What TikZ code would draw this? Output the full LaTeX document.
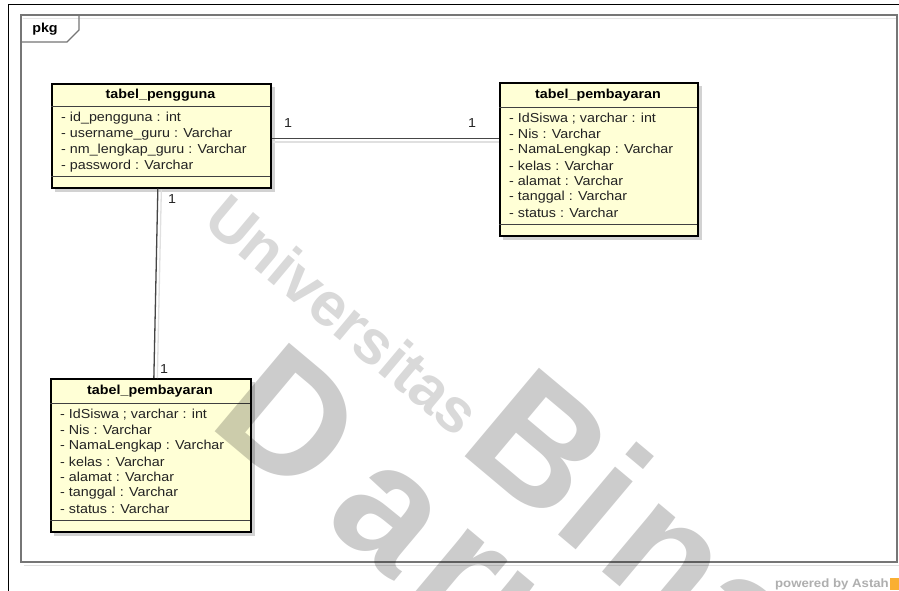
\documentclass[tikz,border=0pt]{standalone}
\usepackage{fontspec}
\setmainfont{Liberation Sans}[FakeStretch=1.1]
\newfontfamily\wmfont{Liberation Sans}
\usetikzlibrary{calc}
\definecolor{boxfill}{RGB}{255,255,214}
\definecolor{frameg}{RGB}{118,118,118}
\definecolor{linkg}{RGB}{70,70,70}
\definecolor{shadowg}{RGB}{210,210,210}
\definecolor{astahg}{RGB}{175,175,175}
\definecolor{astaho}{RGB}{250,175,50}
\definecolor{txtg}{RGB}{35,35,35}
\tikzset{
  classbox/.style={draw=black, line width=1.7pt, fill=boxfill, inner sep=0pt, anchor=north west},
  sepline/.style={draw=black!75, line width=0.9pt},
  titletext/.style={font=\bfseries\fontsize{13}{13}\selectfont, text=black, inner sep=0pt},
  attr/.style={font=\fontsize{13}{13}\selectfont, text=txtg, inner sep=0pt, anchor=west},
  link/.style={draw=linkg, line width=1.3pt},
  linkshadow/.style={draw=black!12, line width=1.3pt},
  mult/.style={font=\fontsize{13}{13}\selectfont, text=txtg, inner sep=0pt},
  wmtext/.style={inner sep=0pt, rotate=-40, anchor=base west, text=black}
}
\begin{document}
\begin{tikzpicture}[x=1pt,y=-1pt]
\useasboundingbox (0,0) rectangle (899,591);
\fill[white] (0,0) rectangle (899,591);
% page border
\draw[black, line width=1.5pt] (8.5,591) -- (8.5,4.5) -- (899,4.5);
% package frame
\draw[black!12, line width=1.5pt] (24,565.5) -- (900,565.5);
\draw[frameg, line width=1.2pt] (21,15) rectangle (897,562);
\draw[black!10, line width=1pt] (22.5,18.5) -- (895.5,18.5);
\draw[frameg, line width=1.2pt] (21,42) -- (67,42) -- (79,30) -- (79,15);
\node[font=\bfseries\fontsize{13}{13}\selectfont, inner sep=0pt] (pkg) at (45,29) {pkg};

% shadows of class boxes
\fill[shadowg] (55,87) rectangle (275,192);
\fill[shadowg] (503,86) rectangle (702,240);
\fill[shadowg] (54,382) rectangle (255,536);

% class tabel_pengguna
\node[classbox, minimum width=219pt, minimum height=104pt] (peng) at (51,83) {};
\draw[sepline] (51,106.5) -- (270,106.5);
\draw[sepline] (51,176) -- (270,176);
\node[titletext] (pengT) at (160.5,95) {tabel\_pengguna};
\node[attr] (pengA1) at (61,118.5) {- id\_pengguna : int};
\node[attr] (pengA2) at (61,134.3) {- username\_guru : Varchar};
\node[attr] (pengA3) at (61,150.1) {- nm\_lengkap\_guru : Varchar};
\node[attr] (pengA4) at (61,165.9) {- password : Varchar};

% class tabel_pembayaran (top right)
\node[classbox, minimum width=198pt, minimum height=153pt] (pembA) at (499,82) {};
\draw[sepline] (499,107) -- (697,107);
\draw[sepline] (499,224) -- (697,224);
\node[titletext] (pembAT) at (598,95) {tabel\_pembayaran};
\node[attr] (pembA1) at (509,118.5) {- IdSiswa ; varchar : int};
\node[attr] (pembA2) at (509,134.2) {- Nis : Varchar};
\node[attr] (pembA3) at (509,149.9) {- NamaLengkap : Varchar};
\node[attr] (pembA4) at (509,165.6) {- kelas : Varchar};
\node[attr] (pembA5) at (509,181.3) {- alamat : Varchar};
\node[attr] (pembA6) at (509,197.0) {- tanggal : Varchar};
\node[attr] (pembA7) at (509,212.7) {- status : Varchar};

% class tabel_pembayaran (bottom left)
\node[classbox, minimum width=200pt, minimum height=153pt] (pembB) at (50,378) {};
\draw[sepline] (50,403) -- (250,403);
\draw[sepline] (50,520) -- (250,520);
\node[titletext] (pembBT) at (150,391) {tabel\_pembayaran};
\node[attr] (pembB1) at (60,414.5) {- IdSiswa ; varchar : int};
\node[attr] (pembB2) at (60,430.2) {- Nis : Varchar};
\node[attr] (pembB3) at (60,445.9) {- NamaLengkap : Varchar};
\node[attr] (pembB4) at (60,461.6) {- kelas : Varchar};
\node[attr] (pembB5) at (60,477.3) {- alamat : Varchar};
\node[attr] (pembB6) at (60,493.0) {- tanggal : Varchar};
\node[attr] (pembB7) at (60,508.7) {- status : Varchar};

% connectors
\coordinate (h1) at ($(peng.east)+(0,2.5)$);
\coordinate (h2) at (h1 -| pembA.west);
\coordinate (v1) at ($(peng.south)+(-3.5,0)$);
\coordinate (v2) at ($(pembB.north)+(3,0)$);
\draw[linkshadow] ($(h1)+(1,3.5)$) -- ($(h2)+(0,3.5)$);
\draw[linkshadow] ($(v1)+(3.5,1)$) -- ($(v2)+(3.5,0)$);
\draw[link] (h1) -- (h2);
\draw[link] (v1) -- (v2);
\node[mult] (m1) at (288,123) {1};
\node[mult] (m2) at (472,123) {1};
\node[mult] (m3) at (172,199) {1};
\node[mult] (m4) at (164,369) {1};

% footer
\node[font=\bfseries\fontsize{12}{12}\selectfont, text=astahg, anchor=east, inner sep=0pt] (astah) at (889,584) {powered by Astah};
\fill[astaho] (890,578) rectangle (899,590);

% watermark
\begin{scope}
\clip (0,0) rectangle (899,591);
\node[wmtext, font=\wmfont\bfseries\fontsize{62}{62}\selectfont, text opacity=0.15] (wmU) at (201,224) {Universitas};
\node[wmtext, font=\wmfont\bfseries\fontsize{168}{168}\selectfont, text opacity=0.2] (wmB) at (456,449) {Bi\kern12pt na};
\node[wmtext, font=\wmfont\bfseries\fontsize{168}{168}\selectfont, text opacity=0.2] (wmD) at (206,424) {D\kern30pt a\kern12pt rma};
\end{scope}
\end{tikzpicture}
\end{document}
